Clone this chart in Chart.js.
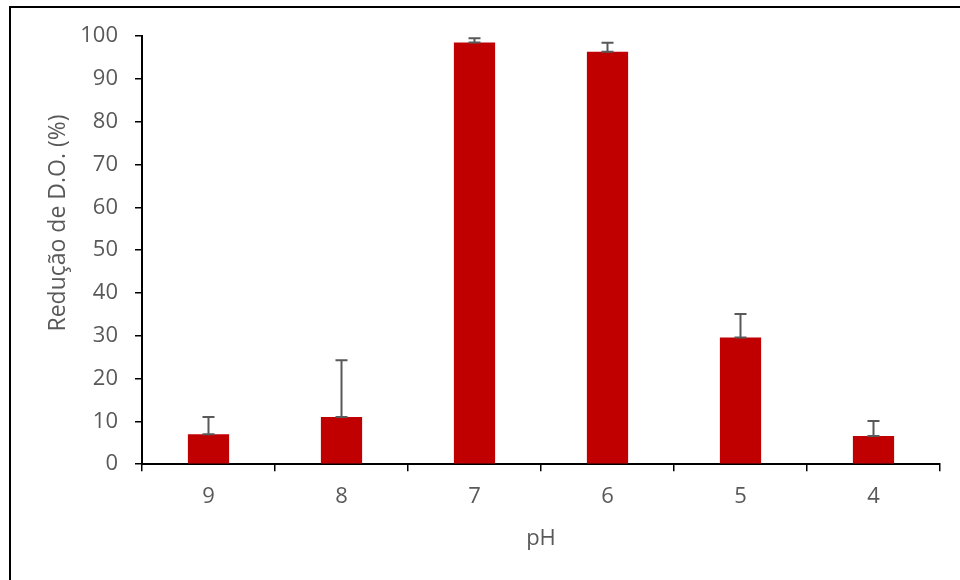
<!DOCTYPE html>
<html lang="pt">
<head>
<meta charset="utf-8">
<title>Redução de D.O. por pH</title>
<script src="https://cdn.jsdelivr.net/npm/chart.js@4.4.1/dist/chart.umd.min.js"></script>
<style>
  html, body { margin: 0; padding: 0; background: #fff; }
  #wrap { position: relative; width: 960px; height: 580px; }
</style>
</head>
<body>
<div id="wrap"><canvas id="grafico"></canvas></div>
<script>
// Dados
const phLabels = ['9', '8', '7', '6', '5', '4'];
const reducao = [7.0, 11.0, 98.5, 96.3, 29.6, 6.6];
const desvio = [4.0, 13.3, 1.0, 2.1, 5.5, 3.5];
const yTicks = [0, 10, 20, 30, 40, 50, 60, 70, 80, 90, 100];

const cinza = '#595959';
Chart.defaults.font.family = "'Open Sans', sans-serif";
Chart.defaults.font.size = 22;
Chart.defaults.color = cinza;

// Moldura externa (só aparecem as bordas de cima e da esquerda)
const moldura = {
    id: 'moldura',
    beforeDraw(chart) {
        const c = chart.ctx;
        c.save();
        c.fillStyle = '#fff';
        c.fillRect(0, 0, chart.width, chart.height);
        c.strokeStyle = '#000';
        c.lineWidth = 2;
        c.strokeRect(10, 7, chart.width + 20, chart.height + 20);
        c.restore();
    }
};

// Barras de erro (só para cima), com traço no topo da barra e no fim
const barrasErro = {
    id: 'barrasErro',
    afterDatasetsDraw(chart) {
        const c = chart.ctx;
        const y = chart.scales.y;
        const meta = chart.getDatasetMeta(0);
        c.save();
        c.strokeStyle = cinza;
        c.lineWidth = 2;
        meta.data.forEach((bar, i) => {
            const yBase = y.getPixelForValue(reducao[i]);
            const yTop = y.getPixelForValue(reducao[i] + desvio[i]);
            const half = 6;
            c.beginPath();
            c.moveTo(bar.x, yBase);
            c.lineTo(bar.x, yTop);
            c.moveTo(bar.x - half, yTop);
            c.lineTo(bar.x + half, yTop);
            c.moveTo(bar.x - half, yBase);
            c.lineTo(bar.x + half, yBase);
            c.stroke();
        });
        c.restore();
    }
};

// Título do eixo Y
const tituloY = {
    id: 'tituloY',
    afterDraw(chart) {
        const c = chart.ctx;
        c.save();
        c.translate(58, 223);
        c.rotate(-Math.PI / 2);
        c.fillStyle = cinza;
        c.font = "23px 'Open Sans', sans-serif";
        c.textAlign = 'center';
        c.textBaseline = 'middle';
        c.fillText('Redução de D.O. (%)', 0, 0);
        c.restore();
    }
};

new Chart(document.getElementById('grafico'), {
    type: 'bar',
    data: {
        labels: phLabels,
        datasets: [{
            data: reducao,
            backgroundColor: '#C00000',
            borderWidth: 0,
            categoryPercentage: 1,
            barPercentage: 0.31
        }]
    },
    options: {
        responsive: true,
        maintainAspectRatio: false,
        animation: false,
        layout: { padding: { top: 36, right: 20, bottom: 28, left: 0 } },
        plugins: {
            legend: { display: false },
            tooltip: { enabled: false }
        },
        scales: {
            x: {
                grid: {
                    offset: true,
                    drawOnChartArea: false,
                    drawTicks: true,
                    tickLength: 7,
                    color: '#000',
                    lineWidth: 1.5
                },
                border: { display: true, color: '#000', width: 2 },
                ticks: { padding: 12, color: cinza },
                title: {
                    display: true,
                    text: 'pH',
                    color: cinza,
                    font: { size: 22 },
                    padding: { top: 4, bottom: 0 }
                }
            },
            y: {
                min: 0,
                max: 100,
                afterBuildTicks(scale) {
                    scale.ticks = yTicks.map(v => ({ value: v }));
                },
                afterFit(scale) { scale.width = 142; },
                grid: {
                    drawOnChartArea: false,
                    drawTicks: true,
                    tickLength: 7,
                    color: '#000',
                    lineWidth: 1.5
                },
                border: { display: true, color: '#000', width: 2 },
                ticks: { padding: 17, color: cinza }
            }
        }
    },
    plugins: [moldura, barrasErro, tituloY]
});
</script>
</body>
</html>
